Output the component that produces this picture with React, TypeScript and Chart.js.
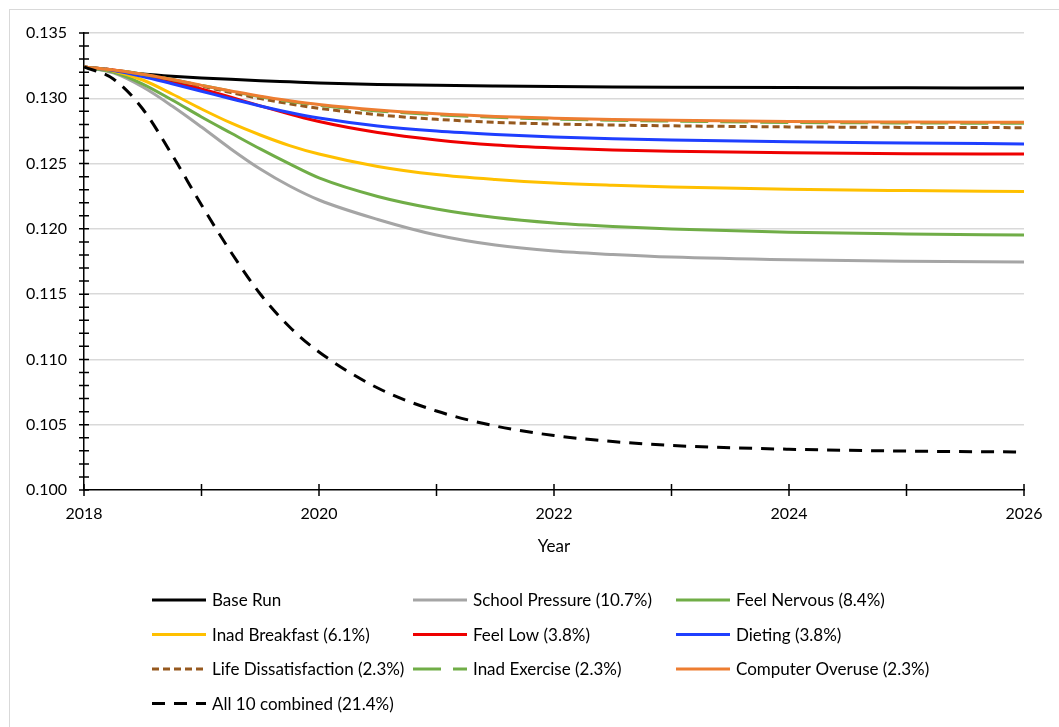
import React, { useEffect, useRef } from 'react';
import { Chart, registerables } from 'chart.js';

Chart.register(...registerables);

// ---- data ----
const years = [2018, 2018.25, 2018.5, 2018.75, 2019, 2019.25, 2019.5, 2019.75, 2020, 2020.5, 2021, 2021.5, 2022, 2022.5, 2023, 2024, 2025, 2026];

const baseRun = [0.1324, 0.13209, 0.13186, 0.13169, 0.13156, 0.13145, 0.13135, 0.13126, 0.13117, 0.13106, 0.13099, 0.13094, 0.1309, 0.13087, 0.13085, 0.13082, 0.1308, 0.13078];
const schoolPressure = [0.1324, 0.13194, 0.13086, 0.12941, 0.1278, 0.12612, 0.12458, 0.12328, 0.12221, 0.12072, 0.11953, 0.11876, 0.1183, 0.11804, 0.11784, 0.11763, 0.11752, 0.11746];
const feelNervous = [0.1324, 0.13201, 0.13109, 0.12987, 0.12857, 0.12734, 0.12612, 0.12497, 0.1239, 0.12248, 0.12152, 0.12087, 0.12045, 0.12018, 0.11999, 0.11974, 0.11961, 0.11953];
const inadBreakfast = [0.1324, 0.13209, 0.1314, 0.13033, 0.12918, 0.12811, 0.12719, 0.12638, 0.12573, 0.12478, 0.12416, 0.12378, 0.12351, 0.12334, 0.12321, 0.12303, 0.12293, 0.12286];
const feelLow = [0.1324, 0.13217, 0.13178, 0.13129, 0.13071, 0.13008, 0.12942, 0.1288, 0.12822, 0.12738, 0.12681, 0.12642, 0.12619, 0.12604, 0.12595, 0.12583, 0.12576, 0.12573];
const dieting = [0.1324, 0.13213, 0.13167, 0.13111, 0.13054, 0.12996, 0.12941, 0.12891, 0.12849, 0.12788, 0.12749, 0.12723, 0.12704, 0.12691, 0.12681, 0.12667, 0.12658, 0.1265];
const lifeDissatisfaction = [0.1324, 0.13217, 0.13184, 0.13142, 0.13094, 0.13044, 0.12998, 0.12958, 0.12923, 0.12874, 0.12839, 0.12816, 0.12803, 0.12795, 0.12789, 0.12781, 0.12777, 0.12775];
const inadExercise = [0.1324, 0.13217, 0.13184, 0.13144, 0.13099, 0.13054, 0.13011, 0.12975, 0.12946, 0.12903, 0.12874, 0.12854, 0.12841, 0.12831, 0.12825, 0.12815, 0.12811, 0.12808];
const computerOveruse = [0.1324, 0.13217, 0.13184, 0.13144, 0.13099, 0.13056, 0.13015, 0.12981, 0.12952, 0.1291, 0.12881, 0.12861, 0.12848, 0.12838, 0.12831, 0.12822, 0.12818, 0.12816];
const all10Combined = [0.1324, 0.13148, 0.12918, 0.12566, 0.12183, 0.11823, 0.11501, 0.11248, 0.11057, 0.10781, 0.10605, 0.1049, 0.10417, 0.10371, 0.10341, 0.10312, 0.10298, 0.10291];

const seriesLabels = [
  'Base Run',
  'School Pressure (10.7%)',
  'Feel Nervous (8.4%)',
  'Inad Breakfast (6.1%)',
  'Feel Low (3.8%)',
  'Dieting (3.8%)',
  'Life Dissatisfaction (2.3%)',
  'Inad Exercise (2.3%)',
  'Computer Overuse (2.3%)',
  'All 10 combined (21.4%)',
];
const seriesValues = [baseRun, schoolPressure, feelNervous, inadBreakfast, feelLow, dieting, lifeDissatisfaction, inadExercise, computerOveruse, all10Combined];
const seriesColors = ['#000000', '#A5A5A5', '#70AD47', '#FFC000', '#EE0000', '#1F3FFF', '#96591F', '#70AD47', '#ED7D31', '#000000'];
const seriesDashes: number[][] = [[], [], [], [], [], [], [7, 4], [28, 12], [], [13, 9]];

const yMin = 0.1;
const yMax = 0.135;
const xMin = 2018;
const xMax = 2026;

// ---- layout constants ----
const FONT = 'Lato';
const legendCols = [152, 413, 676];
const legendRows = [600, 634.5, 669, 703.5];
const legendLineLen = 54;

const crossTicksPlugin = {
  id: 'crossTicks',
  afterDatasetsDraw(chart: any) {
    const { ctx, scales } = chart;
    const x = scales.x;
    const y = scales.y;
    ctx.save();
    ctx.strokeStyle = '#000';
    ctx.lineWidth = 1.5;
    ctx.beginPath();
    y.ticks.forEach((_t: any, i: number) => {
      const py = y.getPixelForTick(i);
      ctx.moveTo(x.left - 5, py);
      ctx.lineTo(x.left + 5, py);
    });
    x.ticks.forEach((_t: any, i: number) => {
      const px = x.getPixelForTick(i);
      ctx.moveTo(px, y.bottom - 6);
      ctx.lineTo(px, y.bottom + 6);
    });
    ctx.stroke();
    ctx.restore();
  },
};

const gridLegendPlugin = {
  id: 'gridLegend',
  afterDraw(chart: any) {
    const ctx = chart.ctx;
    ctx.save();
    chart.data.datasets.forEach((ds: any, i: number) => {
      const x = legendCols[i % 3];
      const y = legendRows[Math.floor(i / 3)];
      ctx.beginPath();
      ctx.setLineDash(ds.borderDash || []);
      ctx.strokeStyle = ds.borderColor;
      ctx.lineWidth = 3;
      ctx.moveTo(x, y);
      ctx.lineTo(x + legendLineLen, y);
      ctx.stroke();
      ctx.setLineDash([]);
      ctx.fillStyle = '#000';
      ctx.font = `17px ${FONT}`;
      ctx.textBaseline = 'middle';
      ctx.textAlign = 'left';
      ctx.fillText(ds.label, x + legendLineLen + 6, y + 1);
    });
    ctx.restore();
  },
};

export default function App() {
  const canvasRef = useRef<HTMLCanvasElement | null>(null);

  useEffect(() => {
    if (!canvasRef.current) return;
    const datasets = seriesLabels.map((label, i) => ({
      label,
      data: years.map((yr, j) => ({ x: yr, y: seriesValues[i][j] })),
      borderColor: seriesColors[i],
      backgroundColor: seriesColors[i],
      borderDash: seriesDashes[i],
      borderWidth: 3,
      pointRadius: 0,
      pointHoverRadius: 0,
      fill: false,
      cubicInterpolationMode: 'monotone' as const,
      order: -i,
    }));

    const chart = new Chart(canvasRef.current, {
      type: 'line',
      data: { datasets },
      plugins: [crossTicksPlugin, gridLegendPlugin],
      options: {
        animation: false,
        responsive: true,
        maintainAspectRatio: false,
        layout: { padding: { left: 0, top: 33, right: 35, bottom: 0 } },
        plugins: {
          legend: { display: false },
          tooltip: { enabled: false },
          title: { display: false },
        },
        scales: {
          x: {
            type: 'linear',
            min: xMin,
            max: xMax,
            grid: { display: false, drawTicks: false },
            border: { display: true, color: '#000', width: 1.5 },
            ticks: {
              stepSize: 1,
              autoSkip: false,
              maxRotation: 0,
              padding: 14,
              color: '#000',
              font: { family: FONT, size: 16 },
              callback: (v: any) => (Math.round(Number(v)) % 2 === 0 ? String(Math.round(Number(v))) : ''),
            },
            title: {
              display: true,
              text: 'Year',
              color: '#000',
              font: { family: FONT, size: 17 },
              padding: { top: 0, bottom: 170 },
            },
            afterFit: (scale: any) => {
              scale.height = 237;
            },
          },
          y: {
            type: 'linear',
            min: yMin,
            max: yMax,
            grid: {
              drawTicks: false,
              lineWidth: 1.5,
              color: (c: any) => {
                const v = c.tick ? c.tick.value : 0;
                const k = Math.round(v * 1000);
                return k % 5 === 0 && k > 100 ? '#D9D9D9' : 'rgba(0,0,0,0)';
              },
            },
            border: { display: true, color: '#000', width: 1.5 },
            ticks: {
              stepSize: 0.001,
              autoSkip: false,
              padding: 17,
              color: '#000',
              font: { family: FONT, size: 16 },
              callback: (v: any) => {
                const k = Math.round(Number(v) * 1000);
                return k % 5 === 0 ? (k / 1000).toFixed(3) : '';
              },
            },
            afterFit: (scale: any) => {
              scale.width = 84;
            },
          },
        },
      },
    });
    return () => chart.destroy();
  }, []);

  return (
    <div
      style={{
        position: 'absolute',
        left: 0,
        top: 0,
        width: 1059,
        height: 727,
        overflow: 'hidden',
        background: '#fff',
      }}
    >
      <div
        style={{
          position: 'absolute',
          left: 9,
          top: 9,
          width: 1100,
          height: 800,
          border: '1.5px solid #D9D9D9',
        }}
      />
      <div style={{ position: 'absolute', left: 0, top: 0, width: 1059, height: 727 }}>
        <canvas ref={canvasRef} />
      </div>
    </div>
  );
}
